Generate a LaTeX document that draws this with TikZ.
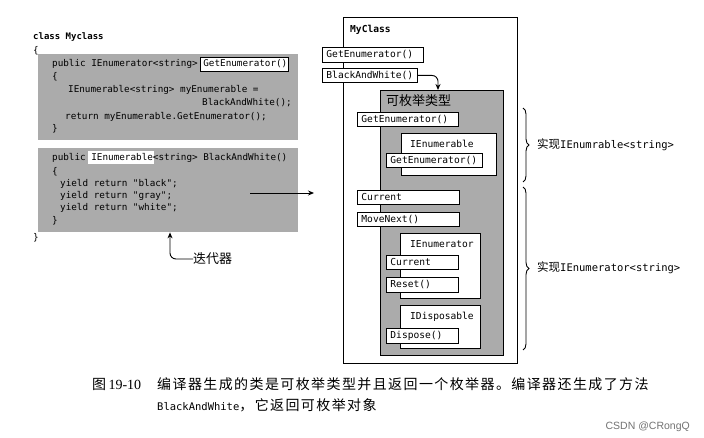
\documentclass[tikz,border=0pt]{standalone}
\usepackage{fontspec}
\setmainfont{Liberation Serif}
\setsansfont{Liberation Sans}
\setmonofont{DejaVu Sans Mono}
\newfontfamily\cjk{Noto Sans CJK SC}
\newfontfamily\cjkcap[LetterSpace=10]{Noto Sans CJK SC}
\usetikzlibrary{arrows.meta,decorations.pathreplacing,calc}
\newcommand\codefont{\ttfamily\fontsize{9.3}{11}\selectfont}
\newcommand\mfont{\ttfamily\fontsize{9.6}{11}\selectfont}
\begin{document}
\begin{tikzpicture}[x=1pt,y=-1pt,
  codebg/.style={fill=black!33, draw=none},
  codeln/.style={anchor=west, inner sep=0pt, font=\codefont},
  hilite/.style={fill=white, inner sep=0pt, anchor=north west},
  mbox/.style={draw, line width=0.9pt, fill=white, inner xsep=4pt, inner ysep=0pt,
    anchor=north west, align=left, font=\mfont, minimum height=14pt},
  ifbox/.style={draw, line width=0.9pt, fill=white, inner sep=0pt, anchor=north west},
  iftxt/.style={anchor=west, inner sep=0pt, font=\mfont},
  arr/.style={-{Stealth[length=6pt,width=5pt]}, line width=0.9pt},
  bracestyle/.style={decorate, decoration={brace, amplitude=6pt}, line width=0.9pt}
]
\useasboundingbox (0,0) rectangle (704,438);
\fill[white] (0,0) rectangle (704,438);

% ---------- left code ----------
\node[anchor=west, inner sep=0pt, font=\ttfamily\bfseries\fontsize{9}{11}\selectfont] (cls) at (33,37) {class Myclass};
\node[codeln] (ob) at (33,51) {\{};
\node[codebg, minimum width=260pt, minimum height=86pt, inner sep=0pt, anchor=north west] (code1) at (38,54) {};
\node[codebg, minimum width=260pt, minimum height=84pt, inner sep=0pt, anchor=north west] (code2) at (38,148) {};
\node[hilite, draw, line width=0.6pt, minimum width=88pt, minimum height=14pt] (h1) at (200,57) {};
\node[hilite, minimum width=66pt, minimum height=13pt] (h2) at (88,151) {};

\node[codeln] (a1) at (52,64) {public IEnumerator<string> GetEnumerator()};
\node[codeln] (a2) at (52,77) {\{};
\node[codeln] (a3) at (68,90) {IEnumerable<string> myEnumerable =};
\node[codeln] (a4) at (202,103) {BlackAndWhite();};
\node[codeln] (a5) at (65,117) {return myEnumerable.GetEnumerator();};
\node[codeln] (a6) at (52,129) {\}};

\node[codeln] (b1) at (52,158) {public IEnumerable<string> BlackAndWhite()};
\node[codeln] (b2) at (52,172) {\{};
\node[codeln] (b3) at (60,184) {yield return "black";};
\node[codeln] (b4) at (60,196) {yield return "gray";};
\node[codeln] (b5) at (60,208) {yield return "white";};
\node[codeln] (b6) at (52,221) {\}};
\node[codeln] (cb) at (33,238) {\}};

\node[anchor=west, inner sep=0pt, font=\cjk\fontsize{13}{15}\selectfont] (iter) at (193,259) {迭代器};
\draw[arr, rounded corners=6pt] (iter.west) -| ($(code2.south west)+(132,0)$);

\coordinate (ca1) at (250,193);
\coordinate (ca2) at (314,193);
\draw[arr] (ca1) -- (ca2);

% ---------- right class diagram ----------
\node[draw, line width=0.9pt, minimum width=174pt, minimum height=346pt, inner sep=0pt, anchor=north west] (myclass) at (343,17) {};
\node[anchor=west, inner sep=0pt, font=\ttfamily\bfseries\fontsize{9.6}{11}\selectfont] (myclassT) at (350,30) {MyClass};

\node[mbox, text width=93pt, minimum height=15pt] (ge1) at (322,47) {GetEnumerator()};
\node[mbox, text width=87pt] (bw) at (322,68) {BlackAndWhite()};

\node[draw, line width=0.8pt, fill=black!33, minimum width=123pt, minimum height=265pt, inner sep=0pt, anchor=north west] (enum) at (380,90) {};
\node[anchor=west, inner sep=0pt, font=\cjk\fontsize{13}{15}\selectfont] (enumT) at (386,101) {可枚举类型};
\draw[arr, rounded corners=6pt] (bw.east) -| ($(enum.north west)+(58,0)$);

\node[mbox, text width=93pt] (ge2) at (357,112) {GetEnumerator()};

\node[ifbox, minimum width=95pt, minimum height=42pt] (ienumerable) at (401,133) {};
\node[iftxt] (ienumerableT) at (410,144) {IEnumerable};
\node[mbox, text width=88pt] (ge3) at (386,153) {GetEnumerator()};

\node[mbox, text width=94pt] (cur1) at (357,190) {Current};
\node[mbox, text width=94pt] (mn) at (357,212) {MoveNext()};

\node[ifbox, minimum width=80pt, minimum height=65pt] (ienumerator) at (400,233) {};
\node[iftxt] (ienumeratorT) at (410,244) {IEnumerator};
\node[mbox, text width=64pt] (cur2) at (386,255) {Current};
\node[mbox, text width=64pt, minimum height=15pt] (reset) at (386,277) {Reset()};

\node[ifbox, minimum width=80pt, minimum height=43pt] (idisp) at (400,305) {};
\node[iftxt] (idispT) at (410,317) {IDisposable};
\node[mbox, text width=64pt, minimum height=15pt] (disp) at (386,328) {Dispose()};

% ---------- braces ----------
\coordinate (br1a) at (523,108);
\coordinate (br1b) at (523,182);
\coordinate (br2a) at (523,187);
\coordinate (br2b) at (523,350);
\draw[bracestyle] (br1a) -- (br1b);
\draw[bracestyle] (br2a) -- (br2b);
\node[anchor=west, inner sep=0pt] (lab1) at (537,145) {{\cjk\fontsize{11.5}{13}\selectfont 实现}{\ttfamily\fontsize{10.5}{13}\selectfont IEnumrable<string>}};
\node[anchor=west, inner sep=0pt] (lab2) at (537,268) {{\cjk\fontsize{11.5}{13}\selectfont 实现}{\ttfamily\fontsize{10.5}{13}\selectfont IEnumerator<string>}};

% ---------- caption ----------
\node[anchor=west, inner sep=0pt, font=\fontsize{14}{16}\selectfont] (capnum) at (92,384) {{\cjk 图}\,19-10};
\node[anchor=west, inner sep=0pt, font=\cjkcap\fontsize{14}{16}\selectfont] (cap1) at (157,384) {编译器生成的类是可枚举类型并且返回一个枚举器。编译器还生成了方法};
\node[anchor=west, inner sep=0pt] (cap2) at (157,405) {{\ttfamily\fontsize{10.5}{13}\selectfont BlackAndWhite}{\cjkcap\fontsize{14}{16}\selectfont ，它返回可枚举对象}};
\node[anchor=east, inner sep=0pt, font=\sffamily\fontsize{10.5}{12}\selectfont, text=black!55] (wm) at (690,427) {CSDN @CRongQ};
\end{tikzpicture}
\end{document}
